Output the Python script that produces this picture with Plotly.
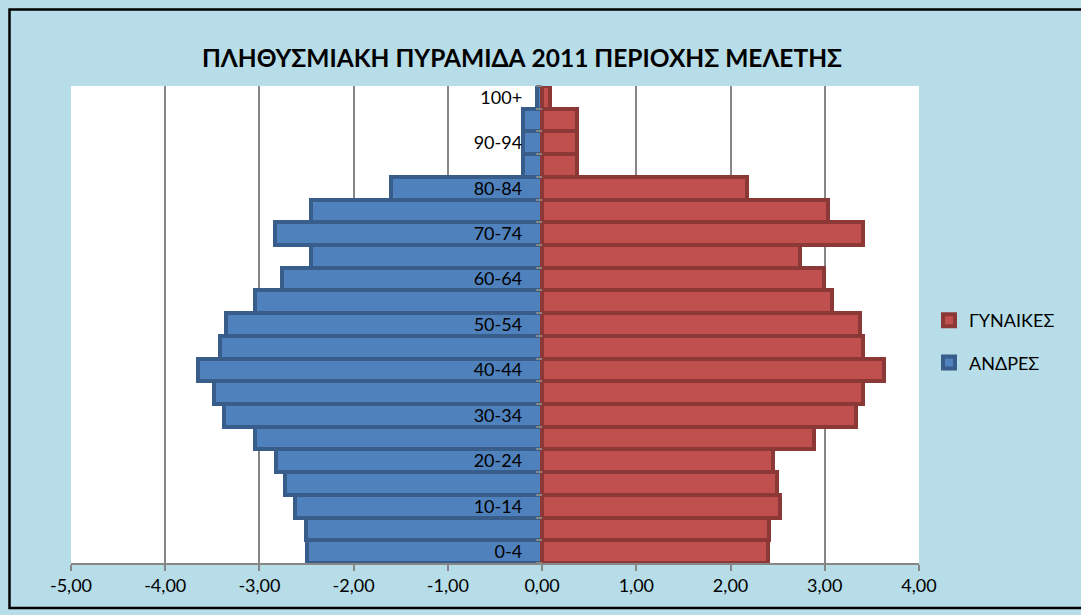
import plotly.graph_objects as go

categories = ["0-4", "5-9", "10-14", "15-19", "20-24", "25-29", "30-34", "35-39",
              "40-44", "45-49", "50-54", "55-59", "60-64", "65-69", "70-74", "75-79",
              "80-84", "85-89", "90-94", "95-99", "100+"]
men = [-2.50, -2.51, -2.62, -2.73, -2.82, -3.05, -3.38, -3.48, -3.65, -3.42, -3.35,
       -3.05, -2.76, -2.45, -2.83, -2.45, -1.60, -0.20, -0.20, -0.20, -0.05]
women = [2.40, 2.41, 2.53, 2.49, 2.45, 2.89, 3.33, 3.41, 3.63, 3.41, 3.37,
         3.08, 2.99, 2.74, 3.41, 3.03, 2.17, 0.37, 0.37, 0.37, 0.08]
x_ticks = [-5, -4, -3, -2, -1, 0, 1, 2, 3, 4]
x_ticktext = [f"{v:.2f}".replace(".", ",") for v in x_ticks]
y_ticktext = [c if i % 2 == 0 else "" for i, c in enumerate(categories)]

FONT = "Lato"
W, H = 1081, 615
L, R, T, B = 71, 162, 86, 52

fig = go.Figure()
fig.add_trace(go.Bar(
    y=categories, x=men, orientation="h", name="ΑΝΔΡΕΣ",
    marker=dict(color="#4F81BD", line=dict(color="#385D8A", width=4)),
    legendgroup="m", legendrank=2,
))
fig.add_trace(go.Bar(
    y=categories, x=women, orientation="h", name="ΓΥΝΑΙΚΕΣ",
    marker=dict(color="#C0504D", line=dict(color="#8C3836", width=4)),
    legendgroup="w", legendrank=1,
))

pw = W - L - R
ph = H - T - B
def px2x(p):
    return (p - L) / pw
def py2y(p):
    return (H - B - p) / ph

fig.update_layout(
    width=W, height=H,
    margin=dict(l=L, r=R, t=T, b=B, autoexpand=False),
    paper_bgcolor="#B7DDE8",
    plot_bgcolor="#FFFFFF",
    barmode="overlay",
    bargap=0,
    font=dict(family=FONT, size=18, color="#000000"),
    title=dict(text="<b>ΠΛΗΘΥΣΜΙΑΚΗ ΠΥΡΑΜΙΔΑ 2011 ΠΕΡΙΟΧΗΣ ΜΕΛΕΤΗΣ</b>",
               x=522 / W, xanchor="center", y=1 - 58 / H, yanchor="middle",
               font=dict(family=FONT, size=24.5, color="#000000")),
    legend=dict(x=px2x(929), y=py2y(302), xanchor="left", yanchor="top",
                traceorder="grouped", tracegroupgap=16,
                bgcolor="rgba(0,0,0,0)", font=dict(size=18),
                itemwidth=30),
    showlegend=True,
    xaxis=dict(range=[-5, 4], tickvals=x_ticks, ticktext=x_ticktext,
               showgrid=True, gridcolor="#868686", gridwidth=1.5,
               showline=True, linecolor="#868686", linewidth=1.5,
               ticks="outside", ticklen=6, tickcolor="#868686", tickwidth=1.5,
               zeroline=False, fixedrange=True),
    yaxis=dict(type="category", categoryorder="array", categoryarray=categories,
               tickvals=categories, ticktext=y_ticktext, tickson="boundaries",
               anchor="free", position=5 / 9,
               ticks="outside", ticklen=6, tickcolor="#868686", tickwidth=1.5,
               showline=False, showgrid=False, zeroline=False,
               ticklabelstandoff=20, fixedrange=True),
    shapes=[dict(type="rect", xref="paper", yref="paper",
                 x0=px2x(9.5), x1=px2x(1100), y0=py2y(608), y1=py2y(9.5),
                 line=dict(color="#000000", width=2.5), fillcolor="rgba(0,0,0,0)",
                 layer="above")],
)

fig.write_html("out.html", config={"displayModeBar": False},
               post_script="document.body.style.margin='0';document.body.style.overflow='hidden';")
